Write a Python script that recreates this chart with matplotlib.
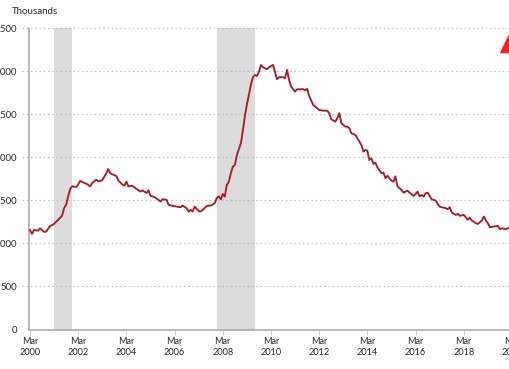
import matplotlib
matplotlib.use("Agg")
import matplotlib.pyplot as plt
import matplotlib.ticker as mticker
import pandas as pd

plt.rcParams["font.family"] = ["Lato", "DejaVu Sans"]

# months after Mar 2000, and level in thousands
MONTH_OFFSET = [
    0, 1, 2, 4, 5, 7, 8, 10, 12, 13, 14, 16, 17, 18, 19, 20, 21, 23, 24, 25,
    27, 28, 30, 31, 33, 34, 36, 38, 39, 40, 41, 43, 44, 46, 47, 48, 49, 51, 53, 55,
    56, 58, 59, 60, 62, 64, 65, 66, 68, 69, 71, 73, 75, 76, 78, 79, 80, 81, 82, 84,
    85, 87, 88, 90, 92, 93, 94, 95, 96, 97, 98, 99, 100, 101, 102, 103, 105, 106, 107, 108,
    109, 110, 111, 112, 113, 114, 115, 116, 118, 119, 121, 122, 123, 124, 126, 127, 128, 129, 130, 132,
    133, 134, 136, 137, 138, 139, 141, 143, 144, 146, 148, 149, 150, 152, 153, 154, 155, 157, 158, 159,
    160, 162, 163, 165, 166, 167, 168, 169, 170, 171, 172, 173, 175, 176, 177, 178, 179, 180, 181, 182,
    183, 184, 185, 186, 188, 189, 191, 192, 193, 194, 195, 196, 197, 198, 200, 201, 202, 203, 204, 205,
    207, 208, 209, 210, 212, 213, 214, 216, 217, 218, 219, 220, 222, 223, 225, 226, 227, 228, 229, 231,
    233, 234, 235, 237, 238, 239,
]
LEVEL = [
    1154, 1108, 1154, 1146, 1174, 1131, 1135, 1200, 1224, 1250, 1270, 1320, 1409, 1448, 1544, 1630, 1660, 1653, 1680, 1723,
    1700, 1692, 1660, 1700, 1738, 1718, 1730, 1812, 1861, 1812, 1800, 1780, 1730, 1680, 1668, 1715, 1660, 1668, 1630, 1600,
    1614, 1583, 1614, 1550, 1536, 1503, 1483, 1511, 1503, 1446, 1433, 1425, 1418, 1437, 1407, 1368, 1387, 1368, 1425, 1375,
    1368, 1407, 1433, 1437, 1465, 1523, 1544, 1510, 1572, 1541, 1676, 1714, 1812, 1889, 1908, 2024, 2160, 2314, 2488, 2604,
    2720, 2836, 2926, 2952, 2941, 2990, 3068, 3041, 3018, 3041, 3068, 2990, 2902, 2926, 2926, 2914, 3010, 2894, 2817, 2759,
    2786, 2785, 2788, 2774, 2792, 2710, 2604, 2566, 2546, 2538, 2538, 2508, 2438, 2410, 2450, 2508, 2392, 2353, 2353, 2334,
    2276, 2256, 2218, 2140, 2063, 2082, 2074, 1966, 1986, 1920, 1935, 1882, 1812, 1819, 1754, 1784, 1750, 1726, 1714, 1776,
    1660, 1638, 1618, 1587, 1610, 1587, 1549, 1572, 1599, 1544, 1560, 1544, 1580, 1587, 1510, 1503, 1495, 1456, 1425, 1418,
    1407, 1395, 1418, 1356, 1329, 1341, 1318, 1329, 1302, 1271, 1298, 1264, 1233, 1224, 1264, 1310, 1264, 1233, 1186, 1194,
    1201, 1163, 1174, 1163, 1174, 1186,
]

RECESSIONS = [("2001-03-01", "2001-11-30"), ("2007-12-01", "2009-06-30")]
Y_TICKS = [0, 500, 1000, 1500, 2000, 2500, 3000, 3500]
X_TICK_DATES = [f"{y}-03-01" for y in range(2000, 2021, 2)]
ARROW_DATE = "2020-01-10"
ARROW_TIP, ARROW_BASE, ARROW_TAIL = 3415, 3220, 2545

LINE_COLOR = "#a51d2b"
AXIS_COLOR = "#a6a6a6"
TEXT_COLOR = "#262626"


def main() -> None:
    start = pd.Timestamp("2000-03-01")
    dates = [start + pd.DateOffset(months=m) for m in MONTH_OFFSET]

    W, H = 510, 369
    px_per_day = 24.1 / 365.25
    x_lo, x_hi = pd.Timestamp("2000-02-20"), pd.Timestamp("2021-01-01")
    width_px = (x_hi - x_lo).days * px_per_day
    left_px, bottom_px, top_px = 29.3, 329.5, 27.7

    fig = plt.figure(figsize=(W / 100, H / 100), dpi=100)
    ax = fig.add_axes([left_px / W, 1 - bottom_px / H, width_px / W, (bottom_px - top_px) / H])
    ax.set_xlim(x_lo, x_hi)
    ax.set_ylim(0, 3500)

    for a, b in RECESSIONS:
        ax.axvspan(pd.Timestamp(a), pd.Timestamp(b), color="#dcdcdc", lw=0, zorder=0)

    # dotted gridlines that run a little past the axis, like the original
    ax.hlines(Y_TICKS[1:], -7.5 / width_px, 1, transform=ax.get_yaxis_transform(),
              colors="#bdbdbd", linestyles=(0, (1.2, 2.4)), lw=0.85, clip_on=False, zorder=1)

    ax.plot(dates, LEVEL, color=LINE_COLOR, lw=1.35, zorder=3)

    # off-scale marker: thin stem plus a solid head
    arrow_x = pd.Timestamp(ARROW_DATE)
    ax.vlines(arrow_x, ARROW_TAIL, ARROW_BASE, colors="#ff7070", lw=0.8, zorder=4)
    ax.annotate("", xy=(arrow_x, ARROW_TIP), xytext=(arrow_x, ARROW_BASE),
                arrowprops=dict(arrowstyle="-|>,head_length=12,head_width=5.8", mutation_scale=1,
                                color="#ff1a1a", lw=0.7, shrinkA=0, shrinkB=0), zorder=4)

    for side in ("top", "right"):
        ax.spines[side].set_visible(False)
    for side in ("left", "bottom"):
        ax.spines[side].set_color(AXIS_COLOR)
        ax.spines[side].set_linewidth(1.1)

    ax.set_yticks(Y_TICKS)
    ax.yaxis.set_major_formatter(mticker.FuncFormatter(lambda v, _: f"{v:,.0f}"))
    ax.tick_params(axis="y", length=0, pad=9, labelsize=7, labelcolor=TEXT_COLOR)

    ax.set_xticks([pd.Timestamp(d) for d in X_TICK_DATES])
    ax.set_xticklabels([f"Mar\n{d[:4]}" for d in X_TICK_DATES], linespacing=1.3)
    ax.tick_params(axis="x", length=3.6, width=0.8, color="#c5d3e3", pad=2,
                   labelsize=6.6, labelcolor=TEXT_COLOR)

    fig.text(11.7 / W, 1 - 12 / H, "Thousands", ha="left", va="center",
             fontsize=7, color=TEXT_COLOR)

    fig.savefig("out.png", dpi=100)
    plt.close(fig)


if __name__ == "__main__":
    main()
